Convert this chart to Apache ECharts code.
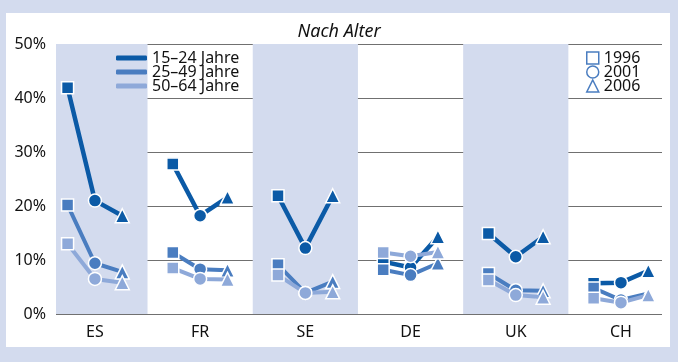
<!DOCTYPE html>
<html><head><meta charset="utf-8">
<script src="https://cdn.jsdelivr.net/npm/echarts@6/dist/echarts.min.js"></script>
<style>html,body{margin:0;padding:0;background:#d3dbee}#c{width:678px;height:362px}</style>
</head><body><div id="c"></div>
<script>
const countries = ['ES','FR','SE','DE','UK','CH'];
const years = ['1996','2001','2006'];
const yTicks = [0,10,20,30,40,50];
// values per country: [1996, 2001, 2006] in %
const age1524 = [[41.9,21.0,18.2],[27.8,18.2,21.6],[21.9,12.2,21.9],[9.7,8.6,14.3],[14.9,10.6,14.3],[5.7,5.8,8.0]];
const age2549 = [[20.2,9.4,7.8],[11.4,8.3,8.1],[9.1,3.9,6.0],[8.2,7.2,9.4],[7.5,4.4,4.3],[4.8,2.6,3.8]];
const age5064 = [[13.0,6.5,5.8],[8.5,6.5,6.4],[7.2,3.9,4.1],[11.4,10.7,11.5],[6.3,3.5,3.1],[2.9,2.1,3.5]];
const seriesNames = ['15–24 Jahre','25–49 Jahre','50–64 Jahre'];
const colors = ['#0b5aa6','#4a7dc0','#8ea9d9'];
const band = '#d3dbee';

const offsets = [-0.26, 0, 0.26];
const symbols = ['rect','circle','triangle'];
const symSizes = [12, 13, 14];

function build(vals){
  const out = [];
  vals.forEach((grp, i) => {
    grp.forEach((v, j) => {
      out.push({value:[i + offsets[j], v], symbol: symbols[j], symbolSize: symSizes[j]});
    });
    if (i < vals.length - 1) out.push({value:[i + 0.5, '-']});
  });
  return out;
}
const allVals = [age1524, age2549, age5064];

const chart = echarts.init(document.getElementById('c'));
const series = allVals.map((vals, k) => ({
  name: seriesNames[k], type: 'line', data: build(vals),
  connectNulls: false,
  lineStyle: {color: colors[k], width: k === 0 ? 4.5 : 4},
  itemStyle: {color: colors[k], borderColor: '#ffffff', borderWidth: 1.5},
  emphasis: {disabled: true}, z: 2 + k, animation: false
}));
series.unshift({
  name: 'bands', type: 'line', data: [[0, null]], z: -1, silent: true, showSymbol: false,
  markArea: {silent: true, itemStyle: {color: band},
    data: [[{xAxis: -0.37}, {xAxis: 0.5}], [{xAxis: 1.5}, {xAxis: 2.5}], [{xAxis: 3.5}, {xAxis: 4.5}]]},
  animation: false
});
years.forEach(y => series.push({name: y, type: 'line', data: []}));

chart.setOption({
  backgroundColor: band,
  animation: false,
  textStyle: {fontFamily: 'Noto Sans'},
  graphic: [{type: 'rect', z: -10, silent: true, shape: {x: 6, y: 13, width: 664, height: 334}, style: {fill: '#ffffff'}}],
  title: {text: 'Nach Alter', left: 'center', top: 18,
    textStyle: {fontSize: 18, fontStyle: 'italic', fontWeight: 'normal', color: '#111', fontFamily: 'Noto Sans'}},
  grid: {left: 56, right: 16, top: 44, bottom: 48},
  xAxis: {type: 'value', min: -0.37, max: 5.39,
    axisLine: {show: false}, axisTick: {show: false}, splitLine: {show: false},
    axisLabel: {customValues: [0,1,2,3,4,5], formatter: v => countries[Math.round(v)] || '',
      color: '#111', fontSize: 16, margin: 10, fontFamily: 'Noto Sans'}},
  yAxis: {type: 'value', min: 0, max: 50, interval: 10,
    axisLine: {show: false}, axisTick: {show: false},
    splitLine: {lineStyle: {color: '#707070', width: 1}},
    axisLabel: {formatter: v => yTicks.includes(v) ? v + '%' : '', color: '#111', fontSize: 16, margin: 10, fontFamily: 'Noto Sans'}},
  legend: [
    {data: seriesNames, orient: 'vertical', left: 111, top: 45, itemGap: -2, itemWidth: 31, itemHeight: 5,
      icon: 'roundRect', selectedMode: false, itemStyle: {borderWidth: 0},
      textStyle: {fontSize: 16, color: '#111', padding: [0,0,0,0], fontFamily: 'Noto Sans'}},
    {data: years.map(y => ({name: y, icon: symbols[years.indexOf(y)],
        itemStyle: {color: '#ffffff', borderColor: '#4a7dc0', borderWidth: 1.5}})),
      orient: 'vertical', left: 581, top: 45, itemGap: -2, itemWidth: 12, itemHeight: 12, selectedMode: false,
      textStyle: {fontSize: 16, color: '#111', fontFamily: 'Noto Sans'}}
  ],
  series: series
});
</script></body></html>
